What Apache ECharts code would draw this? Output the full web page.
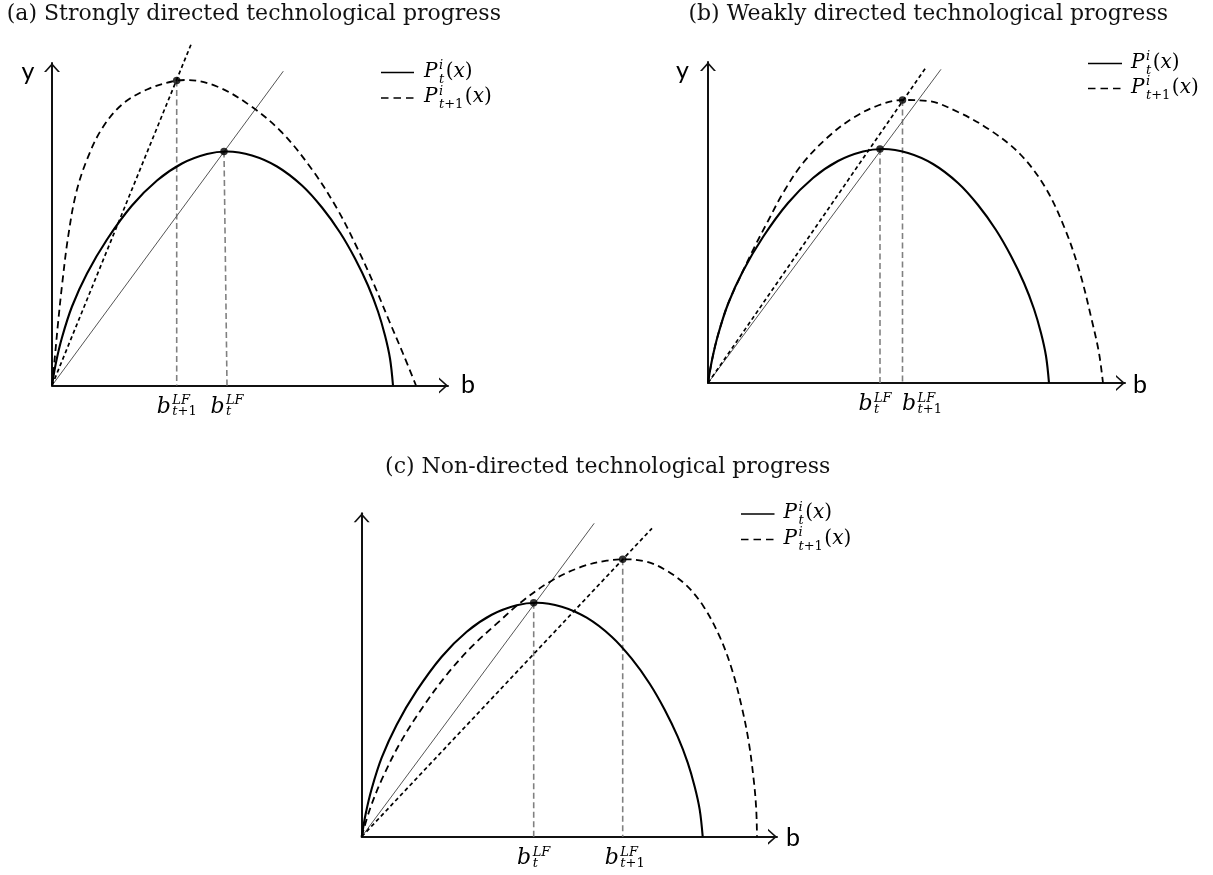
<!DOCTYPE html>
<html>
<head>
<meta charset="utf-8">
<title>Directed technological progress</title>
<script src="https://cdn.jsdelivr.net/npm/echarts@6.0.0/dist/echarts.min.js"></script>
<style>
html,body{margin:0;padding:0;background:#fff;}
#chart{width:1213px;height:875px;}
</style>
</head>
<body>
<div id="chart"></div>
<script>
// ---------------- data ----------------
// units: pixels measured from each panel's origin (x right, y up)
const titles = [
  '(a) Strongly directed technological progress',
  '(b) Weakly directed technological progress',
  '(c) Non-directed technological progress'
];
const axisMaxX = [396, 417, 415.3];
const axisMaxY = [322.5, 321, 323.4];

// P_t^i(x): identical in the three panels
const curveT = [[0,0],[4,23],[10,48],[20,79],[35,112],[55,146],[80,180],[105,205],[130,222],[155,231.5],[175,234],[200,230],[225,219],[250,200],[270,178],[288,153],[303,127],[316,100],[326,74],[333,50],[338,27],[341,0]];

// P_{t+1}^i(x) per panel
const curveT1A = [[0,0],[3,30],[6,62],[10,100],[16,148],[24,192],[35,226],[50,257],[70,281],[95,296],[120,304],[135,305.5],[165,299],[198,280],[230,253],[260,216],[285,177],[305,138],[322,101],[337,65],[351,32],[364,0]];
const curveT1B = [[0,0],[4,23],[10,48],[20,79],[35,112],[47,137],[60,162],[75,190],[95,220],[120,246],[145,265],[170,277.5],[195,283],[220,282],[250,271],[282,253],[312,229],[337,196],[357,154],[372,110],[384,62],[391,30],[395,0]];
const curveT1C = [[0,0],[8,27],[20,57],[38,93],[60,128],[85,162],[110,190],[135,213],[160,235],[190,256],[220,270],[245,276],[262,277.4],[285,275],[305,266],[325,251],[342,230],[358,200],[370,168],[380,130],[387,95],[392,57],[394.5,28],[395.3,0]];

// rays from the origin
const raySolidA = [[0,0],[231.3,314.3]];
const rayDashA  = [[0,0],[139.7,342.7]];
const raySolidB = [[0,0],[233,313.7]];
const rayDashB  = [[0,0],[217.3,314.7]];
const raySolidC = [[0,0],[232.5,313.4]];
const rayDashC  = [[0,0],[290.3,308.4]];

// tangency points
const dotsA = [[172,234],[124.7,305]];
const dotsB = [[172,234],[194.5,283]];
const dotsC = [[172,234],[261,277.4]];

// drop lines to the b axis
const dropsA = [[[124.7,305],[124.7,0]], [[172,234],[175,0]]];
const dropsB = [[[172,234],[172,0]], [[194.5,283],[194.5,0]]];
const dropsC = [[[172,234],[172,0]], [[261,277.4],[261,0]]];

// tick labels  b^{LF}_{sub}
const ticksA = [{x:124.7, sub:'t+1'}, {x:175, sub:'t'}];
const ticksB = [{x:167, sub:'t'}, {x:214, sub:'t+1'}];
const ticksC = [{x:172, sub:'t'}, {x:263, sub:'t+1'}];

const legendNames = [['t'], ['t','+1']];

// ---------------- layout ----------------
const layout = [
  {left:52,    top:63,    title:{x:6.7,  y:14.5, align:'left'},   yLab:{x:28, y:72},      bLab:{x:468, y:384.5}, leg:{x1:381, x2:414, y1:72.5, y2:98, tx:424}},
  {left:708,   top:62,    title:{x:688.4,y:14.5, align:'left'},   yLab:{x:682.5, y:71},   bLab:{x:1140, y:385},  leg:{x1:1088, x2:1122, y1:63.5, y2:88.5, tx:1131}},
  {left:361.7, top:513.3, title:{x:607.7,y:467,  align:'center'}, yLab:null,              bLab:{x:793, y:838},   leg:{x1:741, x2:774.5, y1:514, y2:539.5, tx:783.5}}
];

const SERIF = '"DejaVu Serif"';
const SANS = 'Lato';
const ARROW = 'path://M0,9 L8,0 L16,9 L13.9,9 L8,2.4 L2.1,9 Z';

const chart = echarts.init(document.getElementById('chart'), null, {renderer:'canvas'});

const grids = [], xAxes = [], yAxes = [], series = [];
layout.forEach((L, i) => {
  grids.push({left:L.left, top:L.top, width:axisMaxX[i], height:axisMaxY[i], containLabel:false});
  const axisCommon = {
    type:'value', gridIndex:i, min:0,
    axisLine:{show:true, onZero:false, symbol:['none', ARROW], symbolSize:[16,9], symbolOffset:[0,-4.5],
              lineStyle:{color:'#111', width:2}},
    axisTick:{show:false}, axisLabel:{show:false}, splitLine:{show:false}
  };
  xAxes.push(Object.assign({}, axisCommon, {max:axisMaxX[i]}));
  yAxes.push(Object.assign({}, axisCommon, {max:axisMaxY[i]}));
});

function lineSeries(g, data, style, smooth, z) {
  return {type:'line', xAxisIndex:g, yAxisIndex:g, data:data, symbol:'none', showSymbol:false,
          smooth:smooth, clip:false, silent:true, animation:false, lineStyle:style, z:z};
}
const solidStyle = {color:'#000', width:2.1};
const dashCurveStyle = {color:'#000', width:1.8, type:[7,4.5]};
const thinRayStyle = {color:'#555', width:1};
const dashRayStyle = {color:'#000', width:1.7, type:[4,3]};
const dropStyle = {color:'#808080', width:1.6, type:[6,3.5]};

const curvesT1 = [curveT1A, curveT1B, curveT1C];
const raysSolid = [raySolidA, raySolidB, raySolidC];
const raysDash = [rayDashA, rayDashB, rayDashC];
const dots = [dotsA, dotsB, dotsC];
const drops = [dropsA, dropsB, dropsC];
const ticks = [ticksA, ticksB, ticksC];

for (let g = 0; g < 3; g++) {
  drops[g].forEach(d => series.push(lineSeries(g, d, dropStyle, false, 2)));
  series.push(lineSeries(g, raysSolid[g], thinRayStyle, false, 3));
  series.push(lineSeries(g, raysDash[g], dashRayStyle, false, 3));
  series.push(lineSeries(g, curveT, solidStyle, 0.35, 4));
  series.push(lineSeries(g, curvesT1[g], dashCurveStyle, 0.35, 4));
  series.push({type:'scatter', xAxisIndex:g, yAxisIndex:g, data:dots[g], symbol:'circle', symbolSize:7.5,
               itemStyle:{color:'#000'}, silent:true, animation:false, z:6});
}

chart.setOption({
  animation:false,
  backgroundColor:'#fff',
  grid:grids, xAxis:xAxes, yAxis:yAxes, series:series
});

// ---------------- texts ----------------
const ctx = document.createElement('canvas').getContext('2d');
function fnt(size, italic) { return (italic ? 'italic ' : '') + size + 'px ' + SERIF; }
function tw(t, f) { ctx.font = f; return ctx.measureText(t).width; }
function richPieces(pieces, size) {
  let s = '', w = 0;
  pieces.forEach(p => { s += '{' + (p[1] ? 'i' : 'u') + '|' + p[0] + '}'; w += tw(p[0], fnt(size, p[1])); });
  return {s:s, w:w, rich:{i:{font:fnt(size, true), fill:'#000'}, u:{font:fnt(size, false), fill:'#000'}}};
}
// base letter with superscript / subscript, optional tail
function mathLabel(x, y, base, sup, subPieces, tailPieces, bs, ss, align, supDy, subDy) {
  const fb = fnt(bs, true);
  const bw = tw(base, fb);
  const supR = richPieces([[sup, true]], ss);
  const subR = richPieces(subPieces, ss);
  const sw = Math.max(supR.w, subR.w);
  const tailR = tailPieces ? richPieces(tailPieces, bs) : null;
  const total = bw + 1.5 + sw + (tailR ? 1.5 + tailR.w : 0);
  const x0 = align === 'center' ? x - total / 2 : x;
  const els = [
    {type:'text', x:x0, y:y, silent:true, style:{text:base, font:fb, fill:'#000', verticalAlign:'middle'}},
    {type:'text', x:x0 + bw + 1.5, y:y + supDy, silent:true, style:{text:supR.s, rich:supR.rich, verticalAlign:'middle'}},
    {type:'text', x:x0 + bw + 1.5, y:y + subDy, silent:true, style:{text:subR.s, rich:subR.rich, verticalAlign:'middle'}}
  ];
  if (tailR) els.push({type:'text', x:x0 + bw + 1.5 + sw + 1.5, y:y, silent:true,
                       style:{text:tailR.s, rich:tailR.rich, verticalAlign:'middle'}});
  return els;
}

const graphics = [];
layout.forEach((L, g) => {
  graphics.push({type:'text', x:L.title.x, y:L.title.y, silent:true,
    style:{text:titles[g], font:'22px ' + SERIF, fill:'#111', align:L.title.align, verticalAlign:'middle'}});
  if (L.yLab) graphics.push({type:'text', x:L.yLab.x, y:L.yLab.y, silent:true,
    style:{text:'y', font:'25px ' + SANS, fill:'#000', align:'center', verticalAlign:'middle'}});
  graphics.push({type:'text', x:L.bLab.x, y:L.bLab.y, silent:true,
    style:{text:'b', font:'25px ' + SANS, fill:'#000', align:'center', verticalAlign:'middle'}});
  // legend
  graphics.push({type:'line', silent:true, shape:{x1:L.leg.x1, y1:L.leg.y1, x2:L.leg.x2, y2:L.leg.y1},
    style:{stroke:'#000', lineWidth:1.7}});
  graphics.push({type:'line', silent:true, shape:{x1:L.leg.x1, y1:L.leg.y2, x2:L.leg.x2, y2:L.leg.y2},
    style:{stroke:'#000', lineWidth:1.7, lineDash:[7.5,5]}});
  const tail = [['(', false], ['x', true], [')', false]];
  const sub0 = legendNames[0].map((t, k) => [t, k === 0]);
  const sub1 = legendNames[1].map((t, k) => [t, k === 0]);
  mathLabel(L.leg.tx, L.leg.y1 - 1, 'P', 'i', sub0, tail, 20, 13, 'left', -5.5, 8).forEach(e => graphics.push(e));
  mathLabel(L.leg.tx, L.leg.y2 - 1, 'P', 'i', sub1, tail, 20, 13, 'left', -5.5, 8).forEach(e => graphics.push(e));
  // tick labels under the b axis
  ticks[g].forEach(t => {
    const p = chart.convertToPixel({gridIndex:g}, [t.x, 0]);
    const subP = t.sub === 't' ? [['t', true]] : [['t', true], ['+1', false]];
    mathLabel(p[0], p[1] + 21.5, 'b', 'LF', subP, null, 22, 13, 'center', -6, 5).forEach(e => graphics.push(e));
  });
});

chart.setOption({graphic:graphics});
</script>
</body>
</html>
